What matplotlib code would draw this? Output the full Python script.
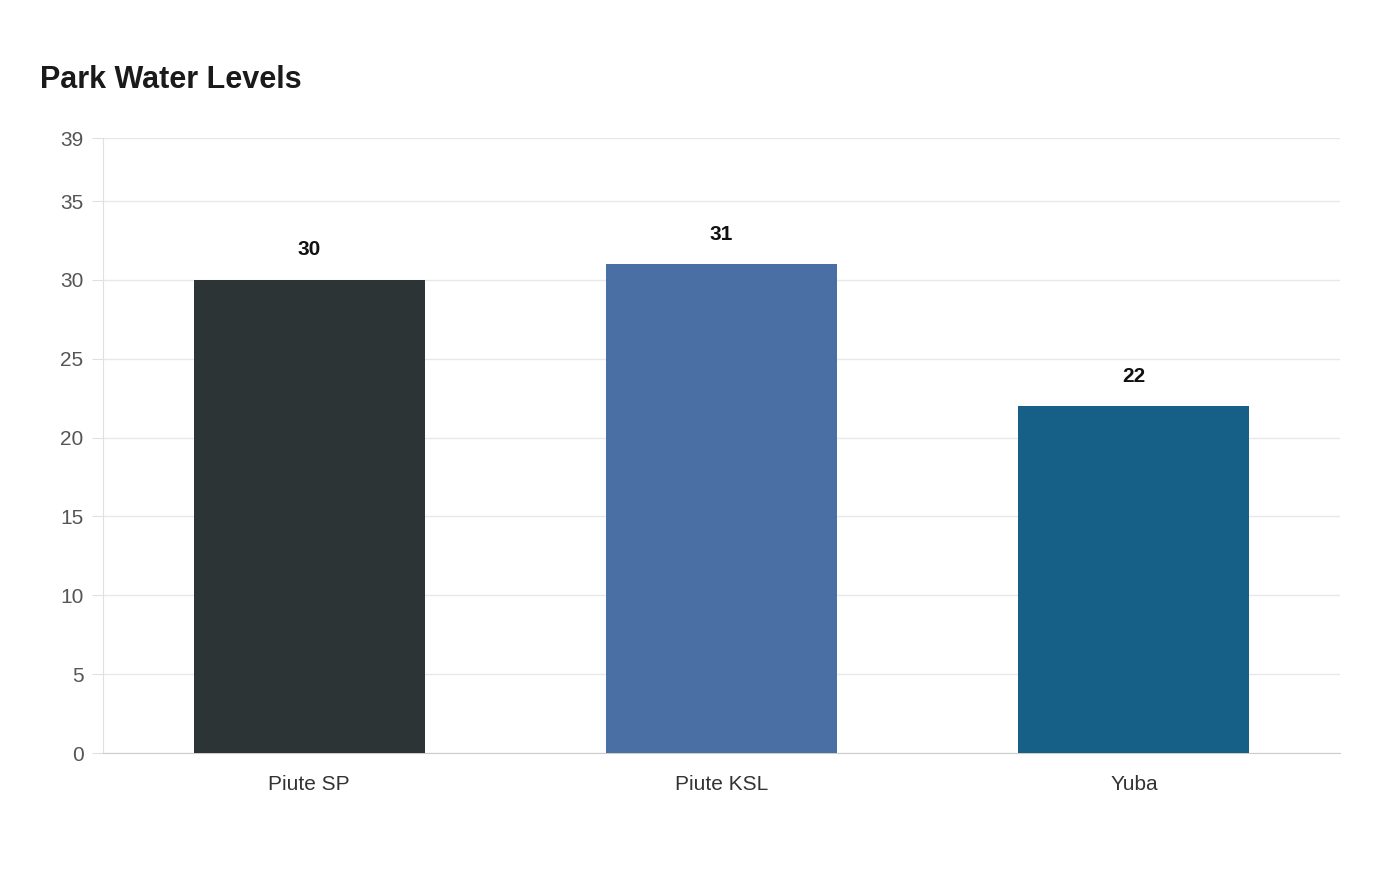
import matplotlib
matplotlib.use("Agg")
import matplotlib.pyplot as plt

plt.rcParams['font.family'] = ['Liberation Sans', 'DejaVu Sans']

# data
parks = ["Piute SP", "Piute KSL", "Yuba"]
levels = [30, 31, 22]
colors = ["#2d3436", "#4a6fa5", "#166088"]
yticks = [0, 5, 10, 15, 20, 25, 30, 35, 39]

fig = plt.figure(figsize=(14, 8.8), dpi=100)
ax = fig.add_axes([103/1400, 127/880, 1237/1400, 615/880])

x = range(len(parks))
ax.bar(x, levels, width=0.56, color=colors, zorder=3)
for i, v in zip(x, levels):
    ax.text(i, v + 1.3, str(v), ha="center", va="bottom", fontsize=15,
            fontweight="bold", color="#111111")

ax.set_xlim(-0.5, len(parks) - 0.5)
ax.set_ylim(0, 39)
ax.set_yticks(yticks)
ax.set_xticks(list(x))
ax.set_xticklabels(parks)
ax.grid(axis="y", color="#e8e8e8", linewidth=1, zorder=0)
for s in ["top", "right"]:
    ax.spines[s].set_visible(False)
ax.spines["left"].set_color("#e0e0e0")
ax.spines["bottom"].set_color("#cccccc")
ax.tick_params(axis="y", length=8, color="#e0e0e0", labelsize=15,
               labelcolor="#555555", pad=6)
ax.tick_params(axis="x", length=0, labelsize=15, labelcolor="#333333", pad=16)

fig.text(40/1400, 1 - 80/880, "Park Water Levels", fontsize=22,
         fontweight="bold", color="#1a1a1a", va="center")

fig.savefig("out.png", dpi=100, facecolor="white")
